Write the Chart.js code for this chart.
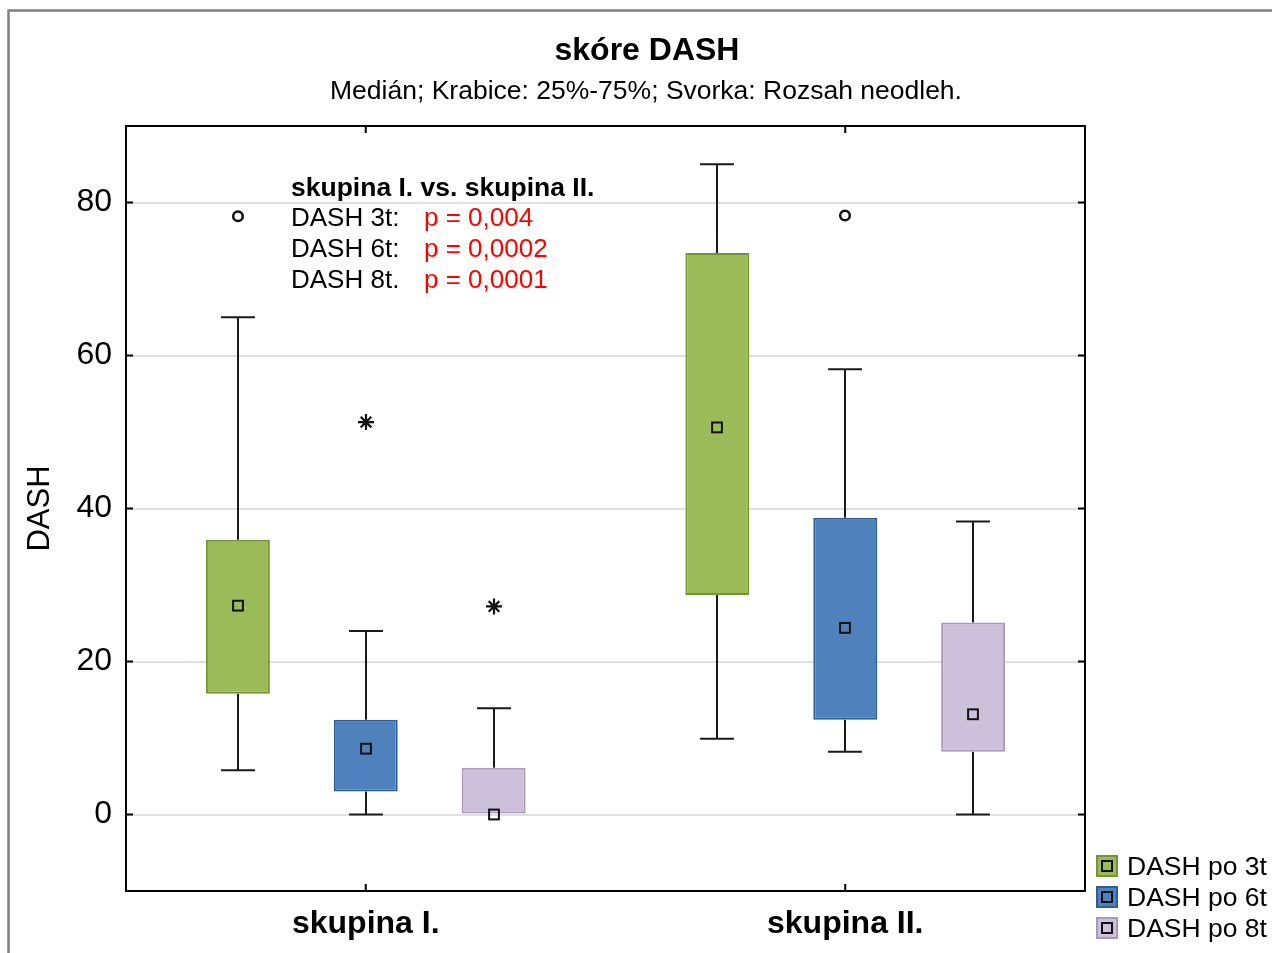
<!DOCTYPE html>
<html>
<head>
<meta charset="utf-8">
<title>skóre DASH</title>
<script src="https://cdn.jsdelivr.net/npm/chart.js@4.4.1/dist/chart.umd.min.js"></script>
<style>
  html, body { margin: 0; padding: 0; background: #ffffff; }
  #wrap { position: relative; width: 1272px; height: 953px; }
</style>
</head>
<body>
<div id="wrap"><canvas id="c" width="1272" height="953"></canvas></div>
<script>
// ---- data -------------------------------------------------------------
const groups = ['skupina I.', 'skupina II.'];
const seriesNames = ['DASH po 3t', 'DASH po 6t', 'DASH po 8t'];
const yTicks = [0, 20, 40, 60, 80];

// non-outlier range, quartiles and median per group
const min3t = [5.8, 9.9],  q1_3t = [15.8, 28.7], med3t = [27.3, 50.6], q3_3t = [35.9, 73.4], max3t = [65.0, 85.0];
const min6t = [0.0, 8.2],  q1_6t = [3.0, 12.4],  med6t = [8.6, 24.4],  q3_6t = [12.4, 38.8], max6t = [24.0, 58.2];
const min8t = [0.0, 0.0],  q1_8t = [0.0, 8.2],   med8t = [0.0, 13.1],  q3_8t = [6.1, 25.1],  max8t = [13.9, 38.3];

// outliers (circles) and extremes (asterisks) per group
const outliers3t = [[78.2], []];
const outliers6t = [[], [78.3]];
const outliers8t = [[], []];
const extremes3t = [[], []];
const extremes6t = [[51.3], []];
const extremes8t = [[27.2], []];

// group comparison
const pHeader = 'skupina I. vs. skupina II.';
const pLabels = ['DASH 3t:', 'DASH 6t:', 'DASH 8t.'];
const pValues = ['p = 0,004', 'p = 0,0002', 'p = 0,0001'];

// ---- styling ----------------------------------------------------------
const FONT = '"Liberation Sans", Arial, sans-serif';
const fills   = ['#9BBB59', '#4F81BD', '#CCC0DA'];
const borders = ['#71943A', '#2F5E97', '#A899BE'];

const stats = [
  { min: min3t, q1: q1_3t, med: med3t, q3: q3_3t, max: max3t, out: outliers3t, ext: extremes3t },
  { min: min6t, q1: q1_6t, med: med6t, q3: q3_6t, max: max6t, out: outliers6t, ext: extremes6t },
  { min: min8t, q1: q1_8t, med: med8t, q3: q3_8t, max: max8t, out: outliers8t, ext: extremes8t }
];

const datasets = stats.map((s, i) => ({
  label: seriesNames[i],
  data: s.q1.map((v, j) => [v, s.q3[j]]),
  backgroundColor: fills[i],
  borderColor: borders[i],
  borderWidth: 2,
  borderSkipped: false,
  barPercentage: 0.5,
  categoryPercentage: 0.8
}));

// whiskers, medians, outliers, frame and the text around the plot
const boxParts = {
  id: 'boxParts',
  beforeDraw(chart) {
    const ctx = chart.ctx;
    ctx.save();
    ctx.strokeStyle = '#808080';
    ctx.lineWidth = 2.5;
    ctx.beginPath();
    ctx.moveTo(8.5, 953);
    ctx.lineTo(8.5, 10.5);
    ctx.lineTo(1272, 10.5);
    ctx.stroke();
    ctx.restore();
  },
  beforeDatasetsDraw(chart) {
    const ctx = chart.ctx, y = chart.scales.y;
    ctx.save();
    ctx.strokeStyle = '#1a1a1a';
    ctx.lineWidth = 2;
    stats.forEach((s, d) => {
      chart.getDatasetMeta(d).data.forEach((bar, j) => {
        const x = Math.round(bar.x);
        const half = bar.width * 0.265;
        const pMin = y.getPixelForValue(s.min[j]);
        const pQ1 = y.getPixelForValue(s.q1[j]);
        const pQ3 = y.getPixelForValue(s.q3[j]);
        const pMax = y.getPixelForValue(s.max[j]);
        ctx.beginPath();
        if (s.max[j] > s.q3[j]) {
          ctx.moveTo(x, pQ3); ctx.lineTo(x, pMax);
          ctx.moveTo(x - half, pMax); ctx.lineTo(x + half, pMax);
        }
        if (s.min[j] < s.q1[j]) {
          ctx.moveTo(x, pQ1); ctx.lineTo(x, pMin);
          ctx.moveTo(x - half, pMin); ctx.lineTo(x + half, pMin);
        }
        ctx.stroke();
      });
    });
    ctx.restore();
  },
  afterDatasetsDraw(chart) {
    const ctx = chart.ctx, y = chart.scales.y, xs = chart.scales.x;
    const a = chart.chartArea;
    ctx.save();
    ctx.strokeStyle = '#111111';
    stats.forEach((s, d) => {
      chart.getDatasetMeta(d).data.forEach((bar, j) => {
        const x = Math.round(bar.x);
        // median
        const pm = y.getPixelForValue(s.med[j]);
        ctx.lineWidth = 2;
        ctx.strokeRect(x - 4.9, pm - 4.9, 9.8, 9.8);
        // outliers
        s.out[j].forEach(v => {
          const py = y.getPixelForValue(v);
          ctx.lineWidth = 2.5;
          ctx.beginPath();
          ctx.arc(x, py, 4.8, 0, Math.PI * 2);
          ctx.stroke();
        });
        // extremes
        s.ext[j].forEach(v => {
          const py = y.getPixelForValue(v);
          ctx.lineWidth = 2.2;
          ctx.beginPath();
          for (let k = 0; k < 4; k++) {
            const ang = k * Math.PI / 4;
            const r = (k % 2 === 0) ? 8 : 7.5;
            ctx.moveTo(x - Math.cos(ang) * r, py - Math.sin(ang) * r);
            ctx.lineTo(x + Math.cos(ang) * r, py + Math.sin(ang) * r);
          }
          ctx.stroke();
        });
      });
    });

    // plot frame with inward ticks
    ctx.strokeStyle = '#000000';
    ctx.lineWidth = 2;
    ctx.strokeRect(a.left, a.top, a.right - a.left, a.bottom - a.top);
    ctx.beginPath();
    yTicks.forEach(v => {
      const py = y.getPixelForValue(v);
      ctx.moveTo(a.left, py); ctx.lineTo(a.left + 7, py);
      ctx.moveTo(a.right - 7, py); ctx.lineTo(a.right, py);
    });
    groups.forEach((g, j) => {
      const px = xs.getPixelForValue(j);
      ctx.moveTo(px, a.bottom); ctx.lineTo(px, a.bottom - 7);
      ctx.moveTo(px, a.top); ctx.lineTo(px, a.top + 7);
    });
    ctx.stroke();
    ctx.restore();
  },
  afterDraw(chart) {
    const ctx = chart.ctx;
    ctx.save();
    ctx.textBaseline = 'alphabetic';

    // titles
    ctx.fillStyle = '#000000';
    ctx.textAlign = 'center';
    ctx.font = 'bold 32px ' + FONT;
    ctx.fillText('skóre DASH', 647, 60);
    ctx.font = '26.5px ' + FONT;
    ctx.fillText('Medián; Krabice: 25%-75%; Svorka: Rozsah neodleh.', 646, 99);

    // comparison note
    ctx.textAlign = 'left';
    ctx.font = 'bold 26.5px ' + FONT;
    ctx.fillText(pHeader, 291, 196);
    ctx.font = '26px ' + FONT;
    pLabels.forEach((t, i) => {
      ctx.fillStyle = '#000000';
      ctx.fillText(t, 291, 225.5 + i * 31);
      ctx.fillStyle = '#FF0000';
      ctx.fillText(pValues[i], 424, 225.5 + i * 31);
    });

    // legend
    ctx.font = '26.5px ' + FONT;
    seriesNames.forEach((name, i) => {
      const top = 855 + i * 31;
      ctx.fillStyle = fills[i];
      ctx.fillRect(1096, top, 22, 22);
      ctx.strokeStyle = borders[i];
      ctx.lineWidth = 2;
      ctx.strokeRect(1097, top + 1, 20, 20);
      ctx.strokeStyle = '#111111';
      ctx.strokeRect(1102, top + 6, 10, 10);
      ctx.fillStyle = '#000000';
      ctx.fillText(name, 1127, top + 20);
    });
    ctx.restore();
  }
};

new Chart(document.getElementById('c'), {
  type: 'bar',
  data: { labels: groups, datasets },
  plugins: [boxParts],
  options: {
    responsive: false,
    animation: false,
    events: [],
    layout: { padding: { left: 0, top: 126, right: 187, bottom: 0 } },
    plugins: { legend: { display: false }, title: { display: false }, tooltip: { enabled: false } },
    scales: {
      x: {
        grid: { display: false, drawTicks: false },
        border: { display: false },
        ticks: { color: '#000000', padding: 14, font: { family: FONT, size: 32, weight: 'bold' } },
        afterFit(scale) { scale.height = 62; }
      },
      y: {
        min: -10,
        max: 90,
        afterBuildTicks(scale) { scale.ticks = yTicks.map(v => ({ value: v })); },
        grid: { color: '#e0e0e0', lineWidth: 2, drawTicks: false },
        border: { display: false },
        ticks: { color: '#000000', padding: 14, font: { family: FONT, size: 32 } },
        title: { display: true, text: 'DASH', color: '#000000', padding: { top: 22, bottom: 0 }, font: { family: FONT, size: 31 } },
        afterFit(scale) { scale.width = 126; }
      }
    }
  }
});
</script>
</body>
</html>
